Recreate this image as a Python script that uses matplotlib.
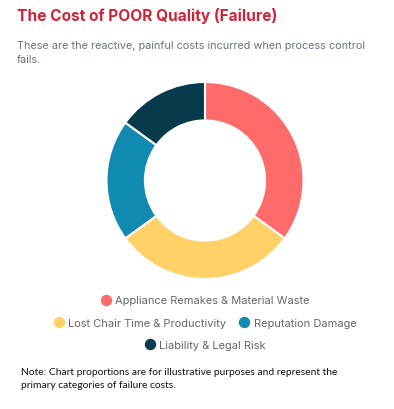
import matplotlib.pyplot as plt
from matplotlib.lines import Line2D

labels = ["Appliance Remakes & Material Waste", "Lost Chair Time & Productivity",
          "Reputation Damage", "Liability & Legal Risk"]
values = [35, 30, 20, 15]
colors = ["#FF6B6B", "#FFD166", "#118AB2", "#073B4C"]

title = "The Cost of POOR Quality (Failure)"
subtitle = "These are the reactive, painful costs incurred when process control\nfails."
note = ("Note: Chart proportions are for illustrative purposes and represent the\n"
        "primary categories of failure costs.")

W, H = 394, 410


def main():
    fig = plt.figure(figsize=(W / 100, H / 100), dpi=100)
    fig.patch.set_facecolor("white")

    # donut, centre ~ (205, 181) px, radius ~ 98 px
    cx, cy, r = 205, 181.5, 98.5
    ax = fig.add_axes([(cx - r) / W, (H - cy - r) / H, 2 * r / W, 2 * r / H])
    ax.pie(values, colors=colors, startangle=90, counterclock=False,
           wedgeprops=dict(width=0.39, edgecolor="white", linewidth=1.5))
    ax.set_xlim(-1, 1)
    ax.set_ylim(-1, 1)
    ax.set_aspect("equal")
    ax.axis("off")

    fig.text(17 / W, 1 - 16 / H, title, fontsize=11.15, fontweight="bold",
             color="#D0243A", family="Inter", va="center", ha="left")
    fig.text(17 / W, 1 - 41 / H, subtitle, fontsize=7.85, color="#6B7280",
             family="Inter", va="top", ha="left", linespacing=1.45)

    # legend rows (chart.js style wrapping)
    rows = [[0], [1, 2], [3]]
    row_y = [301.5, 324, 346]
    for idx, y in zip(rows, row_y):
        handles = [Line2D([], [], marker="o", linestyle="", markersize=7.2,
                          markerfacecolor=colors[i], markeredgecolor=colors[i])
                   for i in idx]
        leg = fig.legend(handles, [labels[i] for i in idx], loc="center",
                         bbox_to_anchor=(205 / W, 1 - y / H), ncol=len(idx),
                         frameon=False, handletextpad=0.35, columnspacing=1.1,
                         handlelength=1.0, borderpad=0,
                         prop=dict(family="Inter", size=7.95))
        for t in leg.get_texts():
            t.set_color("#666666")

    fig.text(21 / W, 1 - 368 / H, note, fontsize=7.4, color="#111111",
             family="Lato", va="top", ha="left", linespacing=1.6)

    fig.savefig("out.png", dpi=100)


if __name__ == "__main__":
    main()
